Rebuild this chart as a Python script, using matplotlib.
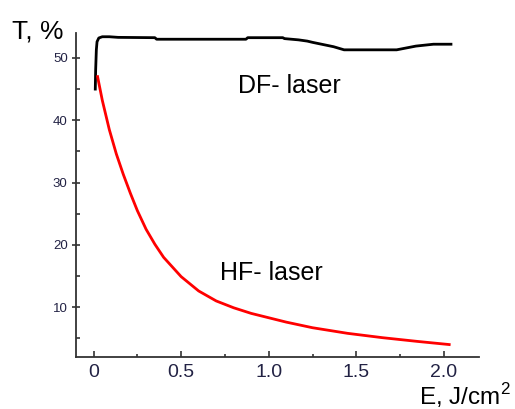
import matplotlib
matplotlib.use('Agg')
import matplotlib.pyplot as plt
from matplotlib.ticker import MultipleLocator

plt.rcParams['font.family'] = ['Liberation Sans', 'DejaVu Sans']
plt.rcParams['mathtext.fontset'] = 'custom'
plt.rcParams['mathtext.rm'] = 'Liberation Sans'

# DF-laser transmission (black)
E_df = [0.01, 0.012, 0.016, 0.02, 0.03, 0.05, 0.09, 0.14, 0.35, 0.36, 0.87, 0.88,
        1.08, 1.09, 1.17, 1.22, 1.25, 1.37, 1.43, 1.73, 1.84, 1.94, 2.04]
T_df = [45.0, 48.0, 51.3, 52.6, 53.2, 53.4, 53.4, 53.3, 53.25, 53.0, 53.0, 53.25,
        53.25, 53.1, 52.9, 52.7, 52.5, 51.8, 51.3, 51.3, 51.9, 52.2, 52.2]

# HF-laser transmission (red)
E_hf = [0.023, 0.05, 0.09, 0.13, 0.17, 0.21, 0.25, 0.30, 0.35, 0.40, 0.50, 0.60,
        0.70, 0.80, 0.90, 1.00, 1.10, 1.25, 1.45, 1.65, 1.85, 2.03]
T_hf = [47.0, 43.2, 38.5, 34.6, 31.3, 28.3, 25.5, 22.5, 20.1, 18.0, 14.9, 12.6,
        11.0, 9.9, 9.0, 8.3, 7.6, 6.7, 5.8, 5.1, 4.5, 4.0]

fig = plt.figure(figsize=(5.15, 4.09), dpi=100)
ax = fig.add_axes([0.1476, 0.1271, 0.7825, 0.7922])

ax.plot(E_df, T_df, color='black', lw=2.0)
ax.plot(E_hf, T_hf, color='red', lw=2.0)

ax.set_xlim(-0.1, 2.2)
ax.set_ylim(2, 54)
ax.xaxis.set_minor_locator(MultipleLocator(0.25))
ax.yaxis.set_major_locator(MultipleLocator(10))
ax.yaxis.set_minor_locator(MultipleLocator(5))
ax.set_xticks([0, 0.5, 1.0, 1.5, 2.0])
ax.set_xticklabels(['0', '0.5', '1.0', '1.5', '2.0'])

for s in ['top', 'right']:
    ax.spines[s].set_visible(False)
for s in ['left', 'bottom']:
    ax.spines[s].set_color('#333333')
    ax.spines[s].set_linewidth(1.3)

ax.tick_params(axis='x', which='major', direction='in', length=4, width=1.2,
               labelsize=14, pad=5, colors='#333333', labelcolor='#222244')
ax.tick_params(axis='x', which='minor', direction='in', length=2, width=1.2, colors='#333333')
ax.tick_params(axis='y', which='major', direction='inout', length=6, width=1.2,
               labelsize=9.5, pad=3, colors='#333333', labelcolor='#222244')
ax.tick_params(axis='y', which='minor', direction='in', length=3, width=1.2, colors='#333333')

ax.text(0.824, 44.3, 'DF- laser', fontsize=18, va='baseline', ha='left')
ax.text(0.72, 14.3, 'HF- laser', fontsize=18, va='baseline', ha='left')

fig.text(12 / 515, 1 - 38 / 409, 'T, %', fontsize=19, va='baseline', ha='left')
fig.text(511 / 515, 1 - 405 / 409, 'E, J/cm$^{2}$', fontsize=17.5, va='baseline', ha='right')

fig.savefig('out.png', dpi=100)
